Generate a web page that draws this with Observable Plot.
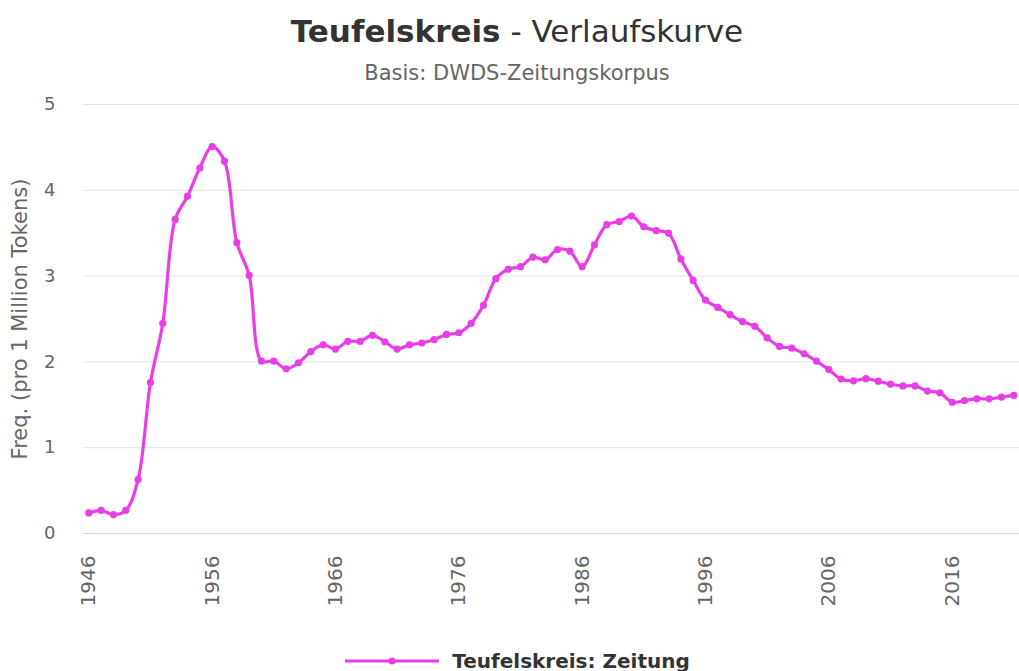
<!DOCTYPE html>
<html>
<head>
<meta charset="utf-8">
<script src="https://cdn.jsdelivr.net/npm/d3@7"></script>
<script src="https://cdn.jsdelivr.net/npm/@observablehq/plot@0.6"></script>
<style>
  html, body { margin: 0; padding: 0; background: #fff; overflow: hidden; }
  #wrap { position: relative; width: 1034px; height: 671px; font-family: "DejaVu Sans", sans-serif; }
  #title { position: absolute; top: 12px; left: 0; width: 100%; text-align: center; font-size: 31px; line-height: 39px; color: #333; }
  #subtitle { position: absolute; top: 60px; left: 0; width: 100%; text-align: center; font-size: 21px; line-height: 26px; color: #666; }
  #chart { position: absolute; top: 92px; left: 0; }
  #legend { position: absolute; top: 647px; left: 0; width: 100%; height: 28px; display: flex; justify-content: center; align-items: center; gap: 12px; font-size: 20px; font-weight: bold; color: #333; }
</style>
</head>
<body>
<div id="wrap">
  <div id="title"><b>Teufelskreis</b> - Verlaufskurve</div>
  <div id="subtitle">Basis: DWDS-Zeitungskorpus</div>
  <div id="chart"></div>
  <div id="legend"></div>
</div>
<script>
const years = [1946,1947,1948,1949,1950,1951,1952,1953,1954,1955,1956,1957,1958,1959,1960,1961,1962,1963,1964,1965,
  1966,1967,1968,1969,1970,1971,1972,1973,1974,1975,1976,1977,1978,1979,1980,1981,1982,1983,1984,1985,
  1986,1987,1988,1989,1990,1991,1992,1993,1994,1995,1996,1997,1998,1999,2000,2001,2002,2003,2004,2005,
  2006,2007,2008,2009,2010,2011,2012,2013,2014,2015,2016,2017,2018,2019,2020,2021];
const freq = [0.24,0.27,0.22,0.27,0.63,1.76,2.45,3.66,3.93,4.26,4.51,4.34,3.39,3.01,2.01,2.01,1.92,1.99,2.12,2.20,
  2.15,2.24,2.24,2.31,2.235,2.15,2.20,2.22,2.26,2.32,2.34,2.45,2.66,2.97,3.08,3.11,3.22,3.19,3.31,3.29,
  3.11,3.365,3.60,3.635,3.70,3.575,3.53,3.50,3.20,2.95,2.72,2.635,2.55,2.47,2.415,2.28,2.18,2.16,2.095,2.01,
  1.91,1.80,1.78,1.805,1.775,1.74,1.72,1.72,1.66,1.64,1.53,1.55,1.57,1.57,1.59,1.61];
const xTicks = [1946,1956,1966,1976,1986,1996,2006,2016];
const yTicks = [0,1,2,3,4,5];
const seriesName = "Teufelskreis: Zeitung";
const yLabel = "Freq. (pro 1 Million Tokens)";
const lineColor = "#e83ee8";

const data = years.map((y, i) => ({year: y, value: freq[i]}));

const chart = Plot.plot({
  width: 1019,
  height: 540,
  marginLeft: 83,
  marginRight: 0,
  marginTop: 12,
  marginBottom: 99,
  style: {fontFamily: "DejaVu Sans, sans-serif", color: "#666", background: "#fff"},
  x: {domain: [1945.57, 2021.46]},
  y: {domain: [0, 5]},
  marks: [
    Plot.gridY(yTicks.filter(d => d > 0), {stroke: "#e3e3e3", strokeOpacity: 1, strokeWidth: 1}),
    Plot.ruleY([0], {stroke: "#ccd6eb", strokeWidth: 1}),
    Plot.axisY(yTicks, {tickSize: 0, tickPadding: 28, fontSize: 18, label: null, tickFormat: d => String(d)}),
    Plot.axisX(xTicks, {tickSize: 0, tickRotate: -90, tickPadding: 22, fontSize: 20, label: null, tickFormat: d => String(d)}),
    Plot.text([yLabel], {frameAnchor: "left", textAnchor: "middle", rotate: -90, dx: -63, fontSize: 21, fill: "#666", text: d => d}),
    Plot.line(data, {x: "year", y: "value", stroke: lineColor, strokeWidth: 3.2, curve: "catmull-rom"}),
    Plot.dot(data, {x: "year", y: "value", r: 3.6, fill: lineColor})
  ]
});
document.getElementById("chart").appendChild(chart);

const legend = document.getElementById("legend");
const ns = "http://www.w3.org/2000/svg";
const sw = document.createElementNS(ns, "svg");
sw.setAttribute("width", "96");
sw.setAttribute("height", "12");
const ln = document.createElementNS(ns, "line");
ln.setAttribute("x1", "1"); ln.setAttribute("x2", "95"); ln.setAttribute("y1", "6"); ln.setAttribute("y2", "6");
ln.setAttribute("stroke", lineColor); ln.setAttribute("stroke-width", "3");
const c = document.createElementNS(ns, "circle");
c.setAttribute("cx", "48"); c.setAttribute("cy", "6"); c.setAttribute("r", "3.5"); c.setAttribute("fill", lineColor);
sw.appendChild(ln); sw.appendChild(c);
const lt = document.createElement("span");
lt.textContent = seriesName;
legend.appendChild(sw);
legend.appendChild(lt);
</script>
</body>
</html>
